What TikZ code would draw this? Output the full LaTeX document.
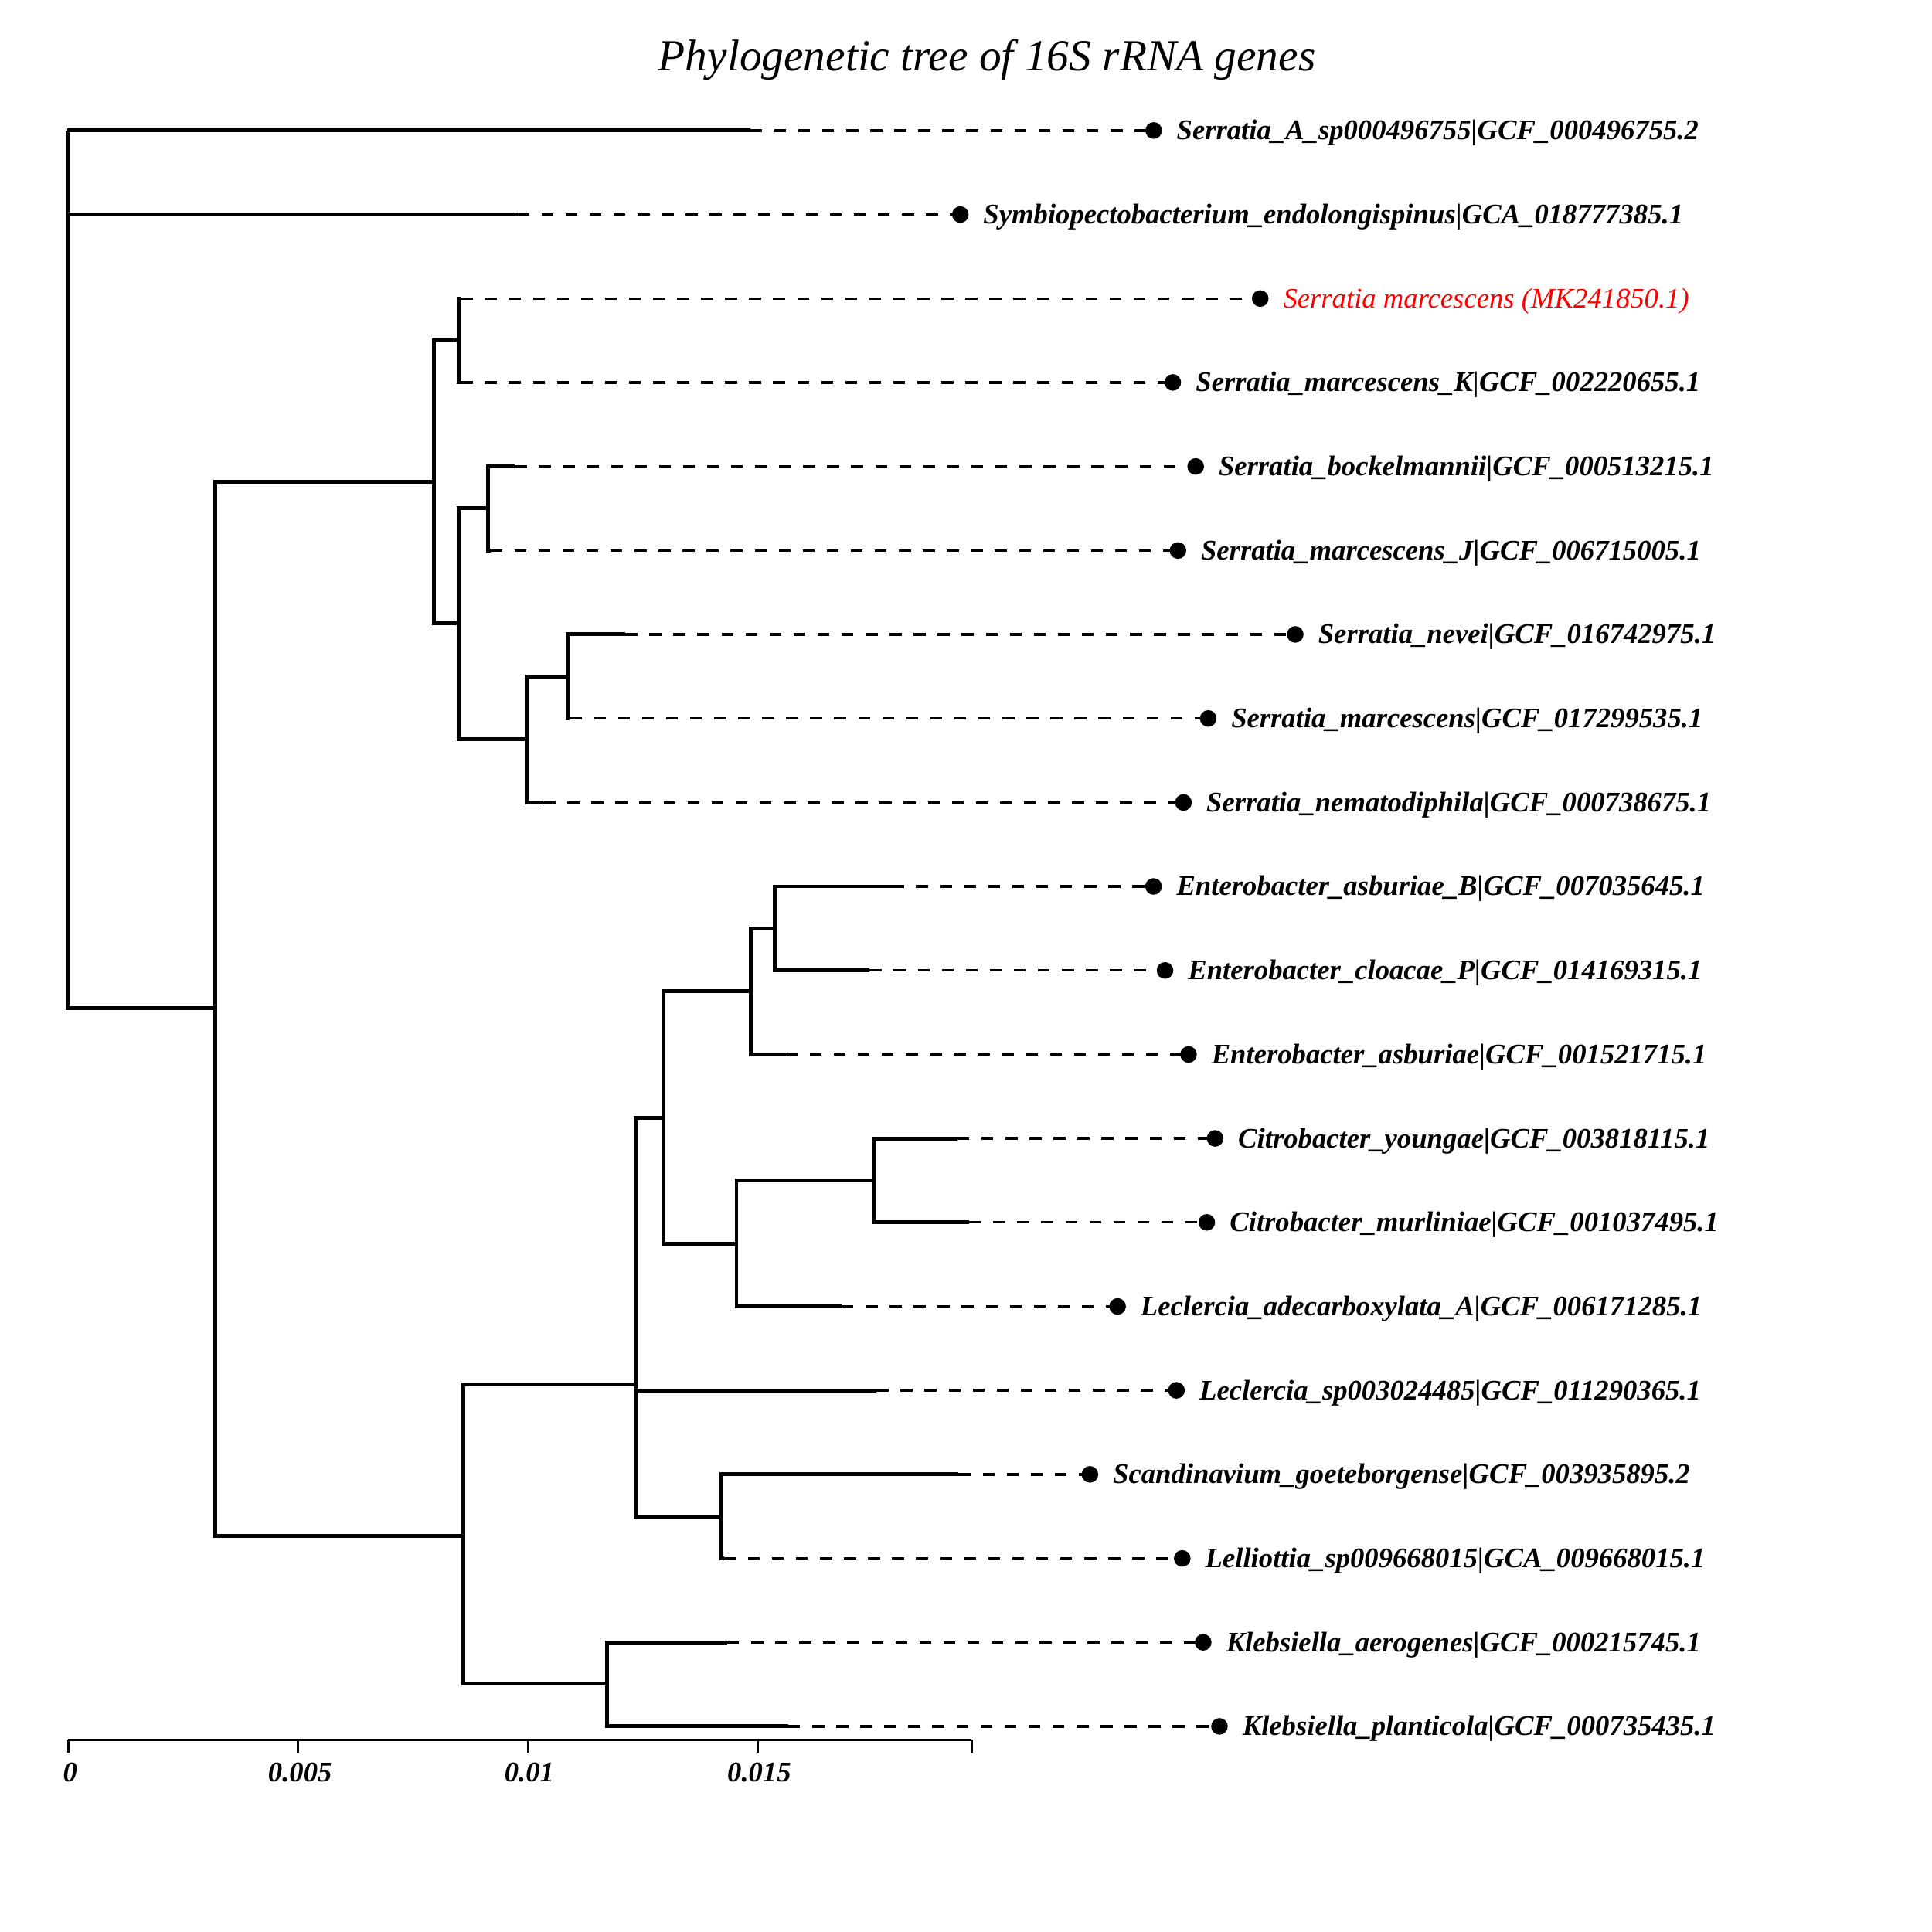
\documentclass[tikz,border=0pt]{standalone}
\usepackage{fontspec}
\setmainfont{Liberation Serif}
\usetikzlibrary{calc}
\begin{document}
\begin{tikzpicture}[x=1pt,y=-1pt,
  branch/.style={line width=3.1pt, line join=miter},
  dashline/.style={line width=2.1pt, dash pattern=on 9.7pt off 9.8pt},
  leafdot/.style={circle, fill=black, inner sep=0pt, minimum size=13.5pt},
  leaflabel/.style={anchor=base west, inner sep=0pt, font=\fontsize{23}{27}\selectfont\bfseries\itshape},
  redlabel/.style={anchor=base west, inner sep=0pt, text=red, font=\fontsize{23}{27}\selectfont\itshape},
  ticklabel/.style={anchor=base, inner sep=0pt, font=\fontsize{23}{27}\selectfont\bfseries\itshape},
  axisline/.style={line width=2.2pt},
  tickline/.style={line width=1.7pt}]
\useasboundingbox (0,0) rectangle (1568,1568);
\fill[white] (0,0) rectangle (1568,1568);

\node[anchor=base, inner sep=0pt, font=\fontsize{36}{40}\selectfont\itshape] (title) at (801,57.6) {Phylogenetic tree of 16S rRNA genes};

% internal nodes
\coordinate (root) at (54.8,105.9);
\coordinate (n1) at (174.5,818);
\coordinate (n2) at (352.3,391.2);
\coordinate (n3) at (372.2,276.3);
\coordinate (n4) at (372.4,506);
\coordinate (n5) at (396.2,412.6);
\coordinate (n6) at (427.3,600.2);
\coordinate (n7) at (460.6,549.1);
\coordinate (n12) at (375.8,1246.7);
\coordinate (n13) at (515.8,1123.8);
\coordinate (n14) at (538.7,907.5);
\coordinate (n15) at (609.6,804.5);
\coordinate (n16) at (628.7,753.5);
\coordinate (n17) at (597.7,1009.5);
\coordinate (n18) at (709,958.2);
\coordinate (n19) at (585.6,1230.6);
\coordinate (n20) at (492.5,1366.3);

\draw[branch] (root) |- (n1);
\draw[branch] (n1) |- (n2);
\draw[branch] (n1) |- (n12);
\draw[branch] (n2) |- (n3);
\draw[branch] (n2) |- (n4);
\draw[branch] (n4) |- (n5);
\draw[branch] (n4) |- (n6);
\draw[branch] (n6) |- (n7);
\draw[branch] (n12) |- (n13);
\draw[branch] (n12) |- (n20);
\draw[branch] (n13) |- (n14);
\draw[branch] (n13) |- (n19);
\draw[branch] (n14) |- (n15);
\draw[branch] (n14) |- (n17);
\draw[branch] (n15) |- (n16);
\draw[branch] (n17) |- (n18);

% leaves
\foreach \i/\p/\yy/\ex/\dx/\txt in {
 0/root/105.9/608.8/936.3/{Serratia\_A\_sp000496755|GCF\_000496755.2},
 1/root/174.1/420/779.4/{Symbiopectobacterium\_endolongispinus|GCA\_018777385.1},
 3/n3/310.4/374/951.8/{Serratia\_marcescens\_K|GCF\_002220655.1},
 4/n5/378.6/417.8/970.4/{Serratia\_bockelmannii|GCF\_000513215.1},
 5/n5/446.8/398/956/{Serratia\_marcescens\_J|GCF\_006715005.1},
 6/n7/514.9/507.5/1051.2/{Serratia\_nevei|GCF\_016742975.1},
 7/n7/583.1/462.5/980.6/{Serratia\_marcescens|GCF\_017299535.1},
 8/n6/651.3/441/960.5/{Serratia\_nematodiphila|GCF\_000738675.1},
 9/n16/719.4/724/936.2/{Enterobacter\_asburiae\_B|GCF\_007035645.1},
 10/n16/787.6/705.8/945.5/{Enterobacter\_cloacae\_P|GCF\_014169315.1},
 11/n15/855.8/637.6/964.6/{Enterobacter\_asburiae|GCF\_001521715.1},
 12/n18/923.9/777/986.2/{Citrobacter\_youngae|GCF\_003818115.1},
 13/n18/992.1/786.6/979.4/{Citrobacter\_murliniae|GCF\_001037495.1},
 14/n17/1060.3/683/907/{Leclercia\_adecarboxylata\_A|GCF\_006171285.1},
 15/n13/1128.4/711.4/954.8/{Leclercia\_sp003024485|GCF\_011290365.1},
 16/n19/1196.6/778/884.6/{Scandinavium\_goeteborgense|GCF\_003935895.2},
 17/n19/1264.8/587.5/959.5/{Lelliottia\_sp009668015|GCA\_009668015.1},
 18/n20/1332.9/590.2/976.5/{Klebsiella\_aerogenes|GCF\_000215745.1},
 19/n20/1401.1/639.7/989.7/{Klebsiella\_planticola|GCF\_000735435.1}} {
  \coordinate (e\i) at (\ex,\yy);
  \draw[branch] (\p) |- (e\i);
  \node[leafdot] (d\i) at (\dx,\yy) {};
  \draw[dashline] (e\i) -- (d\i.center);
  \node[leaflabel] (l\i) at (\dx+18.5,\yy+7.5) {\txt};
}

% highlighted leaf
\coordinate (e2) at (374,242.3);
\draw[branch] (n3) |- (e2);
\node[leafdot] (d2) at (1022.8,242.3) {};
\draw[dashline] (e2) -- (d2.center);
\node[redlabel] (l2) at (1041.3,249.8) {Serratia marcescens (MK241850.1)};

% scale axis
\coordinate (a0) at (55.4,1412);
\coordinate (a1) at (241.9,1412);
\coordinate (a2) at (428.4,1412);
\coordinate (a3) at (614.9,1412);
\coordinate (a4) at (788.5,1412);
\coordinate (b0) at (55.4,1422.7);
\coordinate (b1) at (241.9,1422.7);
\coordinate (b2) at (428.4,1422.7);
\coordinate (b3) at (614.9,1422.7);
\coordinate (b4) at (788.5,1422.7);
\draw[axisline] (a0) -- (a4);
\foreach \k in {0,...,4} { \draw[tickline] (a\k) -- (b\k); }
\node[ticklabel] (t0) at (57,1446) {0};
\node[ticklabel] (t1) at (243.5,1446) {0.005};
\node[ticklabel] (t2) at (429.6,1446) {0.01};
\node[ticklabel] (t3) at (616.2,1446) {0.015};
\end{tikzpicture}
\end{document}
